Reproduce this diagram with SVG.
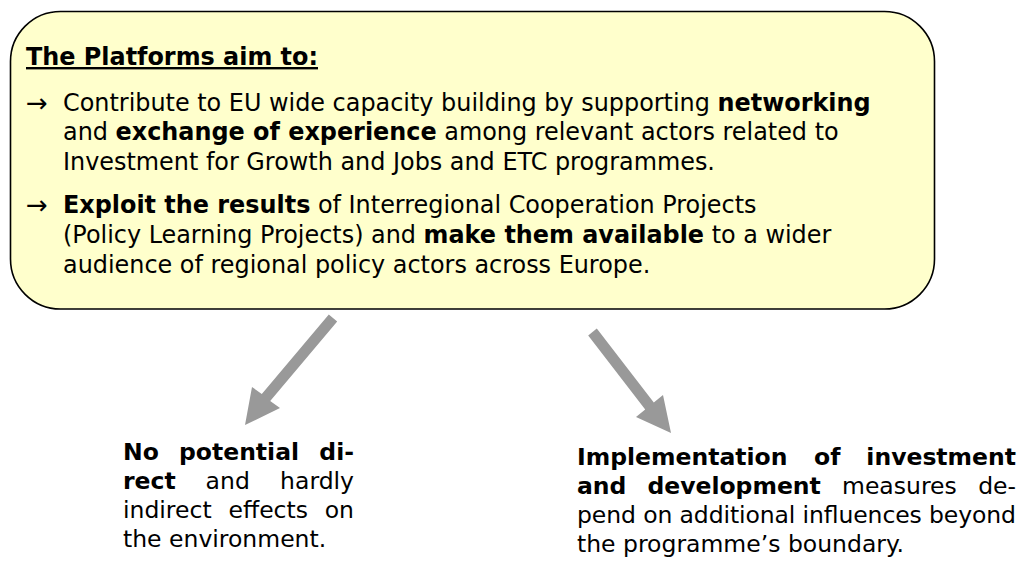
<svg xmlns="http://www.w3.org/2000/svg" width="1032" height="565" viewBox="0 0 1032 565">
<style>
text{font-family:"DejaVu Sans","Verdana",sans-serif;font-size:23.5px;fill:#000}
.t{font-size:23.9px}
.ar{font-size:26px}
.b{font-weight:bold}
.arrow{fill:#999999;stroke:none}
</style>
<rect width="1032" height="565" fill="#ffffff"/>
<g id="platforms">
<rect x="10.5" y="11.5" width="924" height="297.5" rx="50" ry="50" fill="#ffffcc" stroke="#000" stroke-width="1.6"/>
<text x="26" y="65" class="t b" text-decoration="underline">The Platforms aim to:</text>
<text x="26" y="112" class="ar">→</text>
<text x="63" y="111" class="t">Contribute to EU wide capacity building by supporting <tspan class="b">networking</tspan></text>
<text x="63" y="140" class="t">and <tspan class="b">exchange of experience</tspan> among relevant actors related to</text>
<text x="63" y="170" class="t">Investment for Growth and Jobs and ETC programmes.</text>
<text x="26" y="214" class="ar">→</text>
<text x="63" y="213" class="t"><tspan class="b">Exploit the results</tspan> of Interregional Cooperation Projects</text>
<text x="63" y="243" class="t">(Policy Learning Projects) and <tspan class="b">make them available</tspan> to a wider</text>
<text x="63" y="273" class="t">audience of regional policy actors across Europe.</text>
</g>
<g id="connectors">
<polygon class="arrow" points="328.8,314.5 337.2,321.5 270.2,401 280,408 245,425 252,387 261.8,394"/>
<polygon class="arrow" points="588.2,335.4 596.8,328.6 653.8,402.6 663,395 671,433 636,417 645.2,409.4"/>
</g>
<g id="no-effects">
<text x="123" y="460" class="b">No</text>
<text x="179" y="460" class="b">potential</text>
<text x="354" y="460" class="b" text-anchor="end">di-</text>
<text x="123" y="489" class="b">rect</text>
<text x="205.6" y="489">and</text>
<text x="354" y="489" text-anchor="end">hardly</text>
<text x="123" y="518">indirect</text>
<text x="228.5" y="518">effects</text>
<text x="354" y="518" text-anchor="end">on</text>
<text x="123" y="547">the environment.</text>
</g>
<g id="implementation">
<text x="577" y="465" class="b">Implementation</text>
<text x="814" y="465" class="b">of</text>
<text x="1016" y="465" class="b" text-anchor="end">investment</text>
<text x="577" y="494" class="b">and</text>
<text x="647.4" y="494" class="b">development</text>
<text x="842" y="494">measures</text>
<text x="1016" y="494" text-anchor="end">de-</text>
<text x="577" y="523" textLength="439" lengthAdjust="spacing">pend on additional influences beyond</text>
<text x="577" y="552">the programme’s boundary.</text>
</g>
</svg>
